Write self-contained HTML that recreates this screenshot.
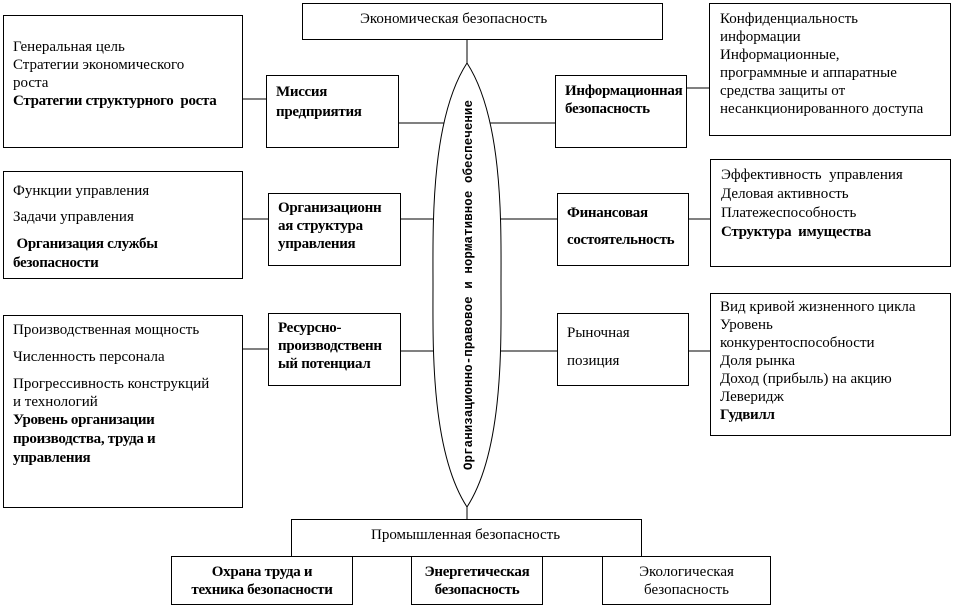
<!DOCTYPE html>
<html><head><meta charset="utf-8"><style>
body{margin:0;width:954px;height:606px;background:#fff;position:relative;overflow:hidden;font-family:"Liberation Serif",serif;font-size:15px;color:#000}
.b{position:absolute;border:1px solid #000;box-sizing:border-box;background:#fff;line-height:18px;white-space:nowrap}
.t{position:absolute;white-space:nowrap;line-height:18px}
b{font-weight:bold;letter-spacing:-0.3px}
svg{position:absolute;left:0;top:0}
</style></head><body>
<svg width="954" height="606">
<g stroke="#000" stroke-width="1" fill="none">
<line x1="467" y1="39" x2="467" y2="64"/>
<line x1="467" y1="506" x2="467" y2="519"/>
<line x1="242" y1="99" x2="266" y2="99"/>
<line x1="398" y1="123" x2="446" y2="123"/>
<line x1="490" y1="123" x2="555" y2="123"/>
<line x1="686" y1="88" x2="710" y2="88"/>
<line x1="242" y1="219" x2="268" y2="219"/>
<line x1="400" y1="219" x2="436" y2="219"/>
<line x1="499" y1="219" x2="557" y2="219"/>
<line x1="688" y1="219" x2="710" y2="219"/>
<line x1="242" y1="349" x2="268" y2="349"/>
<line x1="400" y1="351" x2="436" y2="351"/>
<line x1="499" y1="351" x2="557" y2="351"/>
<line x1="688" y1="351" x2="710" y2="351"/>
<path d="M467 63 C430 120 433 230 433 285 C433 340 430 450 467 507 C504 450 501 340 501 285 C501 230 504 120 467 63 Z" fill="#fff"/>
</g>
<text x="0" y="0" transform="translate(472 470) rotate(-90)" style="font-family:'Liberation Mono',monospace;font-size:12.5px;font-weight:bold" textLength="370" lengthAdjust="spacing">Организационно-правовое и нормативное обеспечение</text>
</svg>
<div class="b" style="left:302px;top:3px;width:361px;height:37px"><div class="t" style="left:57px;top:6px">Экономическая безопасность</div></div>
<div class="b" style="left:3px;top:15px;width:240px;height:133px;padding:22px 0 0 9px">Генеральная цель<br>Стратегии экономического<br>роста<br><b>Стратегии структурного&nbsp; роста</b></div>
<div class="b" style="left:266px;top:75px;width:133px;height:73px;padding:6px 0 0 9px;line-height:20px"><b>Миссия<br>предприятия</b></div>
<div class="b" style="left:555px;top:75px;width:132px;height:73px;padding:6px 0 0 9px;line-height:18px;overflow:hidden"><b>Информационная<br>безопасность</b></div>
<div class="b" style="left:709px;top:3px;width:242px;height:133px;padding:6px 0 0 10px">Конфиденциальность<br>информации<br>Информационные,<br>программные и аппаратные<br>средства защиты от<br>несанкционированного доступа</div>
<div class="b" style="left:3px;top:171px;width:240px;height:108px;padding:6px 0 0 9px;"><div style="line-height:27px">Функции управления</div><div style="line-height:27px;margin-top:-1px">Задачи управления</div><div style="line-height:19px;margin-top:4px"><b>&nbsp;Организация службы<br>безопасности</b></div></div>
<div class="b" style="left:268px;top:193px;width:133px;height:73px;padding:5px 0 0 9px;overflow:hidden"><b>Организационн<br>ая структура<br>управления</b></div>
<div class="b" style="left:557px;top:193px;width:132px;height:73px;padding:6px 0 0 9px;line-height:27px;overflow:hidden"><b>Финансовая<br>состоятельность</b></div>
<div class="b" style="left:710px;top:159px;width:241px;height:108px;padding:6px 0 0 10px;line-height:19px">Эффективность&nbsp; управления<br>Деловая активность<br>Платежеспособность<br><b>Структура&nbsp; имущества</b></div>
<div class="b" style="left:3px;top:315px;width:240px;height:193px;padding:5px 0 0 9px"><div>Производственная мощность</div><div style="margin-top:9px">Численность персонала</div><div style="margin-top:9px">Прогрессивность конструкций<br>и технологий</div><div style="line-height:19px"><b>Уровень организации<br>производства, труда и<br>управления</b></div></div>
<div class="b" style="left:268px;top:313px;width:133px;height:73px;padding:5px 0 0 9px;overflow:hidden"><b>Ресурсно-<br>производственн<br>ый потенциал</b></div>
<div class="b" style="left:557px;top:313px;width:132px;height:73px;padding:5px 0 0 9px;line-height:28px">Рыночная<br>позиция</div>
<div class="b" style="left:710px;top:293px;width:241px;height:143px;padding:4px 0 0 9px">Вид кривой жизненного цикла<br>Уровень<br>конкурентоспособности<br>Доля рынка<br>Доход (прибыль) на акцию<br>Леверидж<br><b>Гудвилл</b></div>
<div class="b" style="left:291px;top:519px;width:351px;height:38px"><div class="t" style="left:79px;top:6px">Промышленная безопасность</div></div>
<div class="b" style="left:171px;top:556px;width:182px;height:49px;text-align:center;padding-top:6px"><b>Охрана труда и<br>техника безопасности</b></div>
<div class="b" style="left:411px;top:556px;width:132px;height:49px;text-align:center;padding-top:6px"><b>Энергетическая<br>безопасность</b></div>
<div class="b" style="left:602px;top:556px;width:169px;height:49px;text-align:center;padding-top:6px">Экологическая<br>безопасность</div>
</body></html>
